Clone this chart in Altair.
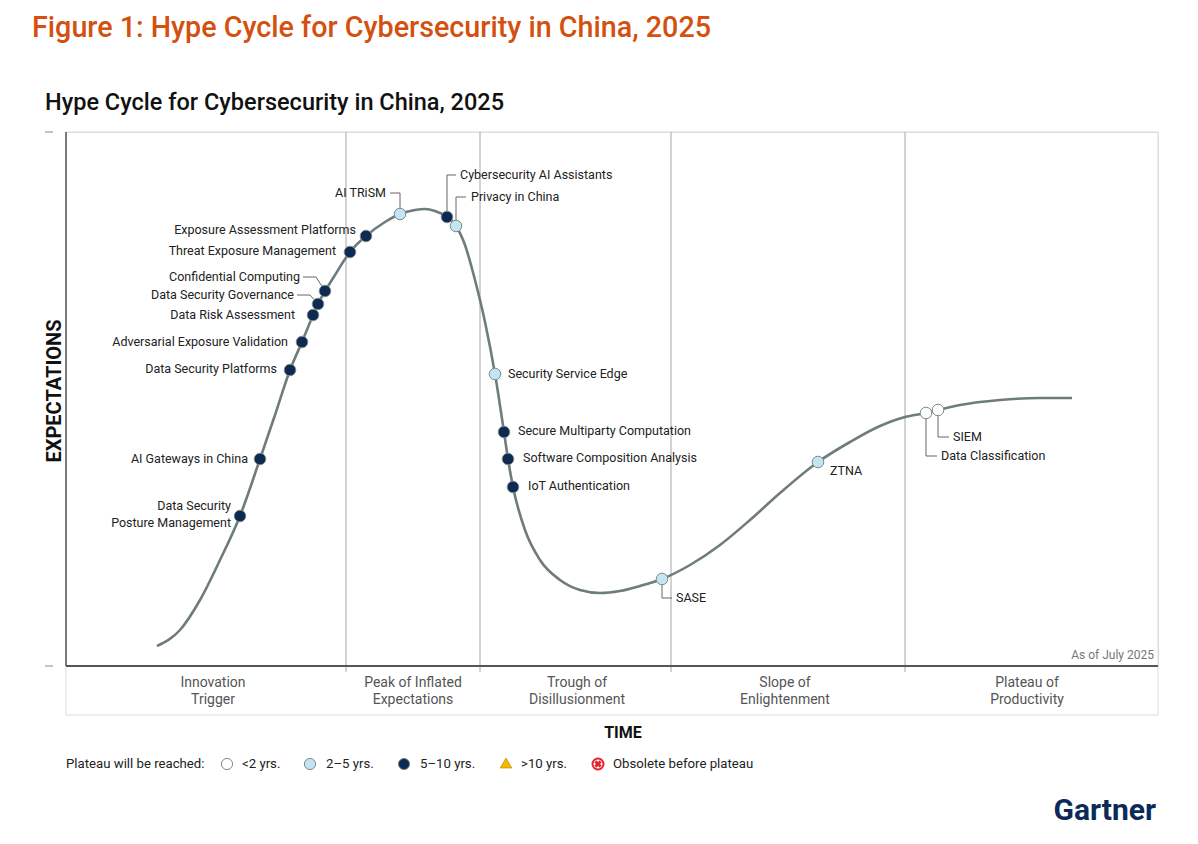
import altair as alt
import pandas as pd

# ---------------- data (time units 0..1092, expectation units 0..534) ----------------
curve_t = [91, 114, 134, 154, 174, 194, 209, 224, 236, 252, 269, 284, 300, 319, 334, 349, 359, 369,
           381, 390, 399, 409, 419, 429, 438, 442, 447, 459, 474, 494, 514, 534, 554, 574, 596,
           624, 654, 684, 714, 752, 784, 814, 839, 860, 872, 894, 934, 974, 1006]
curve_e = [20, 36, 66, 106, 150, 207, 251, 296, 324, 362, 391, 414, 430, 444, 452, 456, 457, 455,
           449, 440, 421, 386, 344, 292, 234, 207, 179, 136, 106, 86, 76, 73, 75, 80, 87,
           101, 121, 146, 173, 204, 224, 240, 249, 253, 256, 261, 266, 268, 268]

tech_names = ["Data Security Posture Management", "AI Gateways in China", "Data Security Platforms",
              "Adversarial Exposure Validation", "Data Risk Assessment", "Data Security Governance",
              "Confidential Computing", "Threat Exposure Management", "Exposure Assessment Platforms",
              "AI TRiSM", "Cybersecurity AI Assistants", "Privacy in China", "Security Service Edge",
              "Secure Multiparty Computation", "Software Composition Analysis", "IoT Authentication",
              "SASE", "ZTNA", "Data Classification", "SIEM"]
tech_t = [174, 194, 224, 236, 247, 252, 259, 284, 300, 334, 381, 390, 429, 438, 442, 447, 596, 752, 860, 872]
tech_e = [150, 207, 296, 324, 351, 362, 375, 414, 430, 452, 449, 440, 292, 234, 207, 179, 87, 204, 253, 256]
tech_years = ["5-10", "5-10", "5-10", "5-10", "5-10", "5-10", "5-10", "5-10", "5-10",
              "2-5", "5-10", "2-5", "2-5", "5-10", "5-10", "5-10", "2-5", "2-5", "<2", "<2"]

# label anchors (annotation placement; first line for multi-line labels)
label_text = [["Data Security", "Posture Management"], ["AI Gateways in China"], ["Data Security Platforms"],
              ["Adversarial Exposure Validation"], ["Data Risk Assessment"], ["Data Security Governance"],
              ["Confidential Computing"], ["Threat Exposure Management"], ["Exposure Assessment Platforms"],
              ["AI TRiSM"], ["Cybersecurity AI Assistants"], ["Privacy in China"], ["Security Service Edge"],
              ["Secure Multiparty Computation"], ["Software Composition Analysis"], ["IoT Authentication"],
              ["SASE"], ["ZTNA"], ["Data Classification"], ["SIEM"]]
label_t = [165, 182, 211, 222, 229, 228, 234, 270, 290, 320, 394, 405, 442, 452, 457, 462, 610, 764, 875, 887]
label_e = [160, 207, 297, 324, 351, 371, 389, 415, 436, 473, 491, 469, 292, 235, 208, 180, 68, 195, 210, 229]
label_side = ["right"] * 10 + ["left"] * 10

# connector elbows for labels placed away from their dot
conn_name = ["Data Security Governance"] * 3 + ["Confidential Computing"] * 3 + ["AI TRiSM"] * 3 + \
            ["Cybersecurity AI Assistants"] * 3 + ["Privacy in China"] * 3 + ["SASE"] * 3 + \
            ["SIEM"] * 3 + ["Data Classification"] * 3
conn_t = [231, 244, 252, 237, 250, 259, 324, 334, 334, 381, 381, 390, 390, 390, 400,
          596, 596, 606, 872, 872, 883, 860, 860, 871]
conn_e = [371, 371, 362, 389, 389, 375, 473, 473, 452, 449, 491, 491, 440, 469, 469,
          87, 68, 68, 255, 229, 229, 253, 210, 210]
conn_order = [0, 1, 2] * 8

phase_bounds = [280, 414, 605, 839]
phase_names = [["Innovation", "Trigger"], ["Peak of Inflated", "Expectations"], ["Trough of", "Disillusionment"],
               ["Slope of", "Enlightenment"], ["Plateau of", "Productivity"]]

legend_labels = ["<2 yrs.", "2\u20135 yrs.", "5\u201310 yrs.", ">10 yrs.", "Obsolete before plateau"]

# ---------------- styling ----------------
FONT = "Roboto"
W, H = 1092, 534
xs = alt.Scale(domain=[0, 1092], nice=False, zero=False)
ys = alt.Scale(domain=[0, 534], nice=False, zero=False)
cat_scale = alt.Scale(domain=["<2", "2-5", "5-10"], range=["#ffffff", "#c3e5f2", "#0d2b52"])
one = pd.DataFrame({"a": [0]})


def txt(s, x, y, size=12.5, color="#222222", align="left", weight="normal", angle=0, lh=None):
    kw = dict(text=s, align=align, baseline="middle", fontSize=size, color=color,
              fontWeight=weight, font=FONT)
    if angle:
        kw["angle"] = angle
    if lh:
        kw["lineHeight"] = lh
    return alt.Chart(one).mark_text(**kw).encode(x=alt.value(x), y=alt.value(y))


def rule(x, y, x2, y2, color="#dddddd", w=1.0):
    return alt.Chart(one).mark_rule(color=color, strokeWidth=w).encode(
        x=alt.value(x), y=alt.value(y), x2=alt.value(x2), y2=alt.value(y2))


def sym(x, y, shape, fill, stroke, sw=1.0, size=125, angle=0):
    kw = dict(shape=shape, size=size, filled=True, fill=fill, stroke=stroke, strokeWidth=sw, opacity=1)
    if angle:
        kw["angle"] = angle
    return alt.Chart(one).mark_point(**kw).encode(x=alt.value(x), y=alt.value(y))


layers = []

# frame
layers += [
    rule(0, 0, W, 0, "#dddddd"),
    rule(W, 0, W, H, "#dddddd"),
    rule(0, H, 0, 583, "#dddddd"),
    rule(W, H, W, 583, "#dddddd"),
    rule(0, 583, W, 583, "#dddddd"),
    rule(-21, 0, -13, 0, "#888888"),
    rule(-21, H, -13, H, "#888888"),
]

# phase dividers
div_df = pd.DataFrame({"t": phase_bounds})
layers.append(alt.Chart(div_df).mark_rule(color="#a6a6a6", strokeWidth=1).encode(
    x=alt.X("t:Q", scale=xs, axis=None), y=alt.value(0), y2=alt.value(H + 6)))

# axes lines
layers += [rule(0, 0, 0, H, "#555555", 1.5), rule(0, H, W, H, "#555555", 2)]

# curve
curve_df = pd.DataFrame({"t": curve_t, "e": curve_e})
layers.append(alt.Chart(curve_df).mark_line(interpolate="monotone", color="#6f7c7c", strokeWidth=2.6).encode(
    x=alt.X("t:Q", scale=xs, axis=None), y=alt.Y("e:Q", scale=ys, axis=None)))

# connectors
conn_df = pd.DataFrame({"name": conn_name, "t": conn_t, "e": conn_e, "o": conn_order})
layers.append(alt.Chart(conn_df).mark_line(color="#666666", strokeWidth=1).encode(
    x=alt.X("t:Q", scale=xs, axis=None), y=alt.Y("e:Q", scale=ys, axis=None),
    detail="name:N", order="o:Q"))

# technology dots
tech_df = pd.DataFrame({"name": tech_names, "t": tech_t, "e": tech_e, "yrs": tech_years})
layers.append(alt.Chart(tech_df).mark_circle(size=135, stroke="#7f8b8b", strokeWidth=1, opacity=1).encode(
    x=alt.X("t:Q", scale=xs, axis=None), y=alt.Y("e:Q", scale=ys, axis=None),
    color=alt.Color("yrs:N", scale=cat_scale, legend=None)))

# labels
lab_df = pd.DataFrame({"txt": label_text, "t": label_t, "e": label_e, "side": label_side})
for side in ["left", "right"]:
    layers.append(alt.Chart(lab_df[lab_df.side == side]).mark_text(
        align=side, baseline="middle", fontSize=12.5, font=FONT, color="#222222", lineHeight=17).encode(
        x=alt.X("t:Q", scale=xs, axis=None), y=alt.Y("e:Q", scale=ys, axis=None), text="txt"))

# phase labels
centers = [147, 347, 511, 719, 961]
for c, nm in zip(centers, phase_names):
    layers.append(txt(nm, c, 551, size=14, color="#555555", align="center", lh=17))

# titles & axis titles
layers += [
    txt("Figure 1: Hype Cycle for Cybersecurity in China, 2025", -34, -104, size=28.7, color="#d4500f", weight=500),
    txt("Hype Cycle for Cybersecurity in China, 2025", -21, -29, size=23.5, color="#111111", weight=500),
    txt("EXPECTATIONS", -11, 259, size=20, color="#111111", align="center", weight="bold", angle=270),
    txt("TIME", 557, 601, size=16, color="#111111", align="center", weight="bold"),
    txt("As of July 2025", 1088, 523, size=12, color="#777777", align="right"),
]

# legend row
LY = 632
layers.append(txt("Plateau will be reached:", 0, LY, size=13.2))
sym_x = [161, 244, 338, 440, 532]
lab_x = [176, 260, 354, 455, 547]
for lx, s in zip(lab_x, legend_labels):
    layers.append(txt(s, lx, LY, size=13.2))
layers += [
    sym(sym_x[0], LY, "circle", "#ffffff", "#888888"),
    sym(sym_x[1], LY, "circle", "#c3e5f2", "#7f8b8b"),
    sym(sym_x[2], LY, "circle", "#0d2b52", "#7f8b8b"),
    sym(sym_x[3], LY - 1, "triangle-up", "#f5b800", "#c98f00", sw=0.8, size=130),
    sym(sym_x[4], LY, "circle", "#ffffff", "#e3242b", sw=2, size=120),
    sym(sym_x[4], LY, "cross", "#e3242b", "#e3242b", sw=0, size=55, angle=45),
]

# logo
layers.append(txt("Gartner", 1090, 679, size=30, color="#0b2a5a", align="right", weight="bold"))

chart = alt.layer(*layers).properties(
    width=W, height=H,
    autosize=alt.AutoSizeParams(type="none"),
    padding={"left": 58, "top": 124, "right": 32, "bottom": 170},
).configure_view(stroke=None).configure(background="#ffffff")

chart.save("out.html", embed_options={"renderer": "svg", "actions": False})
